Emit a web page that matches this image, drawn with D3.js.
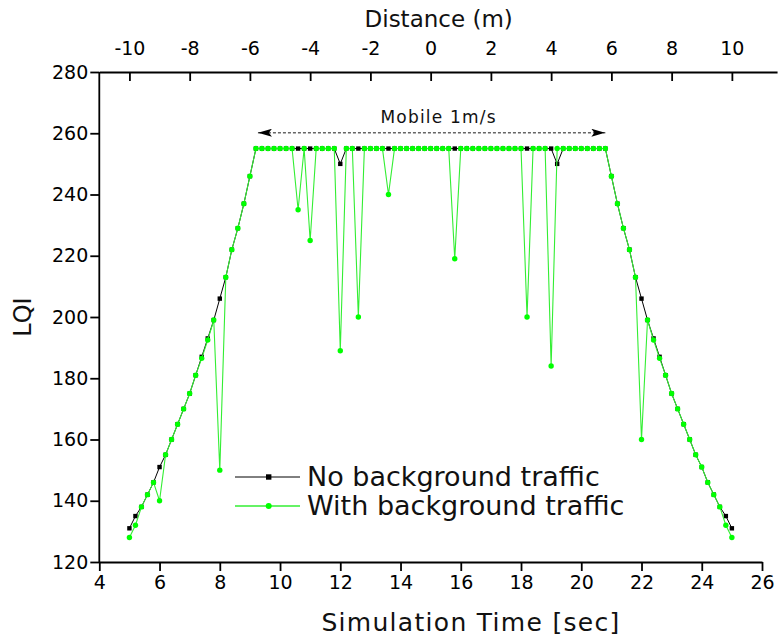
<!DOCTYPE html>
<html>
<head>
<meta charset="utf-8">
<script src="https://cdn.jsdelivr.net/npm/d3@7/dist/d3.min.js"></script>
<style>
  html, body { margin: 0; padding: 0; background: #fff; }
  svg { display: block; font-family: "DejaVu Sans", Verdana, sans-serif; }
</style>
</head>
<body>
<svg id="chart" width="779" height="640"></svg>
<script>
// ---- data ----
const timeSec = [
  5.0, 5.2, 5.4, 5.6, 5.8, 6.0, 6.2, 6.4, 6.6, 6.8,
  7.0, 7.2, 7.4, 7.6, 7.8, 8.0, 8.2, 8.4, 8.6, 8.8,
  9.0, 9.2, 9.4, 9.6, 9.8, 10.0, 10.2, 10.4, 10.6, 10.8,
  11.0, 11.2, 11.4, 11.6, 11.8, 12.0, 12.2, 12.4, 12.6, 12.8,
  13.0, 13.2, 13.4, 13.6, 13.8, 14.0, 14.2, 14.4, 14.6, 14.8,
  15.0, 15.2, 15.4, 15.6, 15.8, 16.0, 16.2, 16.4, 16.6, 16.8,
  17.0, 17.2, 17.4, 17.6, 17.8, 18.0, 18.2, 18.4, 18.6, 18.8,
  19.0, 19.2, 19.4, 19.6, 19.8, 20.0, 20.2, 20.4, 20.6, 20.8,
  21.0, 21.2, 21.4, 21.6, 21.8, 22.0, 22.2, 22.4, 22.6, 22.8,
  23.0, 23.2, 23.4, 23.6, 23.8, 24.0, 24.2, 24.4, 24.6, 24.8,
  25.0
];
const lqiNoTraffic = [
  131, 135, 138, 142, 146, 151, 155, 160, 165, 170,
  175, 181, 187, 193, 199, 206, 213, 222, 229, 237,
  246, 255, 255, 255, 255, 255, 255, 255, 255, 255,
  255, 255, 255, 255, 255, 250, 255, 255, 255, 255,
  255, 255, 255, 255, 255, 255, 255, 255, 255, 255,
  255, 255, 255, 255, 255, 255, 255, 255, 255, 255,
  255, 255, 255, 255, 255, 255, 255, 255, 255, 255,
  255, 250, 255, 255, 255, 255, 255, 255, 255, 255,
  246, 237, 229, 222, 213, 206, 199, 193, 187, 181,
  175, 170, 165, 160, 155, 151, 146, 142, 138, 135,
  131
];
const lqiWithTraffic = [
  128, 132, 138, 142, 146, 140, 155, 160, 165, 170,
  175, 181, 186.5, 192.5, 199, 150, 213, 222, 229, 237,
  246, 255, 255, 255, 255, 255, 255, 255, 235, 255,
  225, 255, 255, 255, 255, 189, 255, 255, 200, 255,
  255, 255, 255, 240, 255, 255, 255, 255, 255, 255,
  255, 255, 255, 255, 219, 255, 255, 255, 255, 255,
  255, 255, 255, 255, 255, 255, 200, 255, 255, 255,
  184, 255, 255, 255, 255, 255, 255, 255, 255, 255,
  246, 237, 229, 222, 213, 160, 199, 192.5, 186.5, 181,
  175, 170, 165, 160, 155, 151, 146, 142, 138, 132,
  128
];
const seriesNames = ["No background traffic", "With background traffic"];
const timeTicks = [4, 6, 8, 10, 12, 14, 16, 18, 20, 22, 24, 26];
const lqiTicks = [120, 140, 160, 180, 200, 220, 240, 260, 280];
const distanceTicks = [-10, -8, -6, -4, -2, 0, 2, 4, 6, 8, 10];
const annotationText = "Mobile 1m/s";
const annotationSpan = [9.2, 20.8];   // in seconds
const annotationLevel = 260;          // in LQI units

// ---- layout ----
const svg = d3.select("#chart");
const pLeft = 99.3, pRight = 762, pTop = 72, pBottom = 562;

const x = d3.scaleLinear().domain([4, 26]).range([pLeft, pRight]);
const y = d3.scaleLinear().domain([120, 280]).range([pBottom, pTop]);
// distance = time - 15 (m), same pixel scale, axis line extended a bit to the right
const xd = d3.scaleLinear().domain([-11, 11.5]).range([x(4), x(26.5)]);

const tickFont = "19px";
const plainFmt = d => String(d);

// bottom axis
const gB = svg.append("g").attr("transform", `translate(0,${pBottom})`)
  .call(d3.axisBottom(x).tickValues(timeTicks).tickFormat(plainFmt).tickSizeInner(9).tickSizeOuter(0).tickPadding(5));
// left axis
const gL = svg.append("g").attr("transform", `translate(${pLeft},0)`)
  .call(d3.axisLeft(y).tickValues(lqiTicks).tickFormat(plainFmt).tickSizeInner(9).tickSizeOuter(0).tickPadding(2));
// top axis (distance)
const gT = svg.append("g").attr("transform", `translate(0,${pTop})`)
  .call(d3.axisTop(xd).tickValues(distanceTicks).tickFormat(plainFmt).tickSizeInner(-9).tickSizeOuter(0).tickPadding(17));

[gB, gL, gT].forEach(g => {
  g.selectAll("path.domain").attr("stroke", "#000").attr("stroke-width", 1.8);
  g.selectAll(".tick line").attr("stroke", "#000").attr("stroke-width", 1.8);
  g.selectAll(".tick text").attr("fill", "#000").style("font-size", tickFont)
    .style("font-family", '"DejaVu Sans", Verdana, sans-serif');
});
// extend left axis line down to bottom tick
gL.select("path.domain").attr("d", `M0,${y(120) + 0.5}V${y(280)}`);

// axis titles
svg.append("text").attr("x", 471).attr("y", 631)
  .attr("text-anchor", "middle").style("font-size", "25px").style("letter-spacing", "1.3px")
  .attr("fill", "#111").text("Simulation Time [sec]");
svg.append("text").attr("transform", `translate(31,${(pTop + pBottom) / 2}) rotate(-90)`)
  .attr("text-anchor", "middle").style("font-size", "24px").attr("fill", "#111").text("LQI");
svg.append("text").attr("x", xd(0) + 8).attr("y", 27)
  .attr("text-anchor", "middle").style("font-size", "23px").attr("fill", "#111").text("Distance (m)");

// ---- series ----
const pts0 = timeSec.map((t, i) => [t, lqiNoTraffic[i]]);
const pts1 = timeSec.map((t, i) => [t, lqiWithTraffic[i]]);
const line = d3.line().x(d => x(d[0])).y(d => y(d[1]));

const blackCol = "#000", greenLine = "#33ee33", greenMark = "#00ff00";

svg.append("path").datum(pts0).attr("d", line)
  .attr("fill", "none").attr("stroke", blackCol).attr("stroke-width", 1);
svg.append("g").selectAll("rect").data(pts0).join("rect")
  .attr("x", d => x(d[0]) - 2.2).attr("y", d => y(d[1]) - 2.2)
  .attr("width", 4.4).attr("height", 4.4).attr("fill", blackCol);

svg.append("path").datum(pts1).attr("d", line)
  .attr("fill", "none").attr("stroke", greenLine).attr("stroke-width", 1.1);
svg.append("g").selectAll("circle").data(pts1).join("circle")
  .attr("cx", d => x(d[0])).attr("cy", d => y(d[1])).attr("r", 2.7).attr("fill", greenMark);

// ---- annotation ----
const defs = svg.append("defs");
defs.append("marker").attr("id", "arrowEnd").attr("viewBox", "0 0 14 8")
  .attr("refX", 14).attr("refY", 4).attr("markerWidth", 14).attr("markerHeight", 8)
  .attr("markerUnits", "userSpaceOnUse").attr("orient", "auto")
  .append("path").attr("d", "M0,0L14,4L0,8L3,4Z").attr("fill", "#000");
defs.append("marker").attr("id", "arrowStart").attr("viewBox", "0 0 14 8")
  .attr("refX", 0).attr("refY", 4).attr("markerWidth", 14).attr("markerHeight", 8)
  .attr("markerUnits", "userSpaceOnUse").attr("orient", "auto")
  .append("path").attr("d", "M14,0L0,4L14,8L11,4Z").attr("fill", "#000");

const ay = y(annotationLevel) - 0.5;
svg.append("line").attr("x1", x(annotationSpan[0]) + 2).attr("x2", x(annotationSpan[1]))
  .attr("y1", ay).attr("y2", ay)
  .attr("stroke", "#666").attr("stroke-width", 1.3).attr("stroke-dasharray", "3,2")
  .attr("marker-start", "url(#arrowStart)").attr("marker-end", "url(#arrowEnd)");
svg.append("text").attr("x", x(15) + 8).attr("y", ay - 10)
  .attr("text-anchor", "middle").style("font-size", "17px").style("letter-spacing", "1.2px")
  .attr("fill", "#111").text(annotationText);

// ---- legend ----
const lg = svg.append("g").attr("transform", "translate(235,477)");
const legendItems = [
  { name: seriesNames[0], stroke: blackCol, mark: "rect" },
  { name: seriesNames[1], stroke: greenLine, mark: "circle" }
];
legendItems.forEach((it, i) => {
  const g = lg.append("g").attr("transform", `translate(0,${i * 29})`);
  g.append("line").attr("x1", 0).attr("x2", 65).attr("y1", 0).attr("y2", 0)
    .attr("stroke", it.stroke).attr("stroke-width", i === 0 ? 1 : 1.3);
  if (it.mark === "rect") {
    g.append("rect").attr("x", 31).attr("y", -2.7).attr("width", 5.4).attr("height", 5.4).attr("fill", blackCol);
  } else {
    g.append("circle").attr("cx", 33.7).attr("cy", 0).attr("r", 3).attr("fill", greenMark);
  }
  g.append("text").attr("x", 72).attr("y", 9).style("font-size", "27px").attr("fill", "#111").text(it.name);
});
</script>
</body>
</html>
